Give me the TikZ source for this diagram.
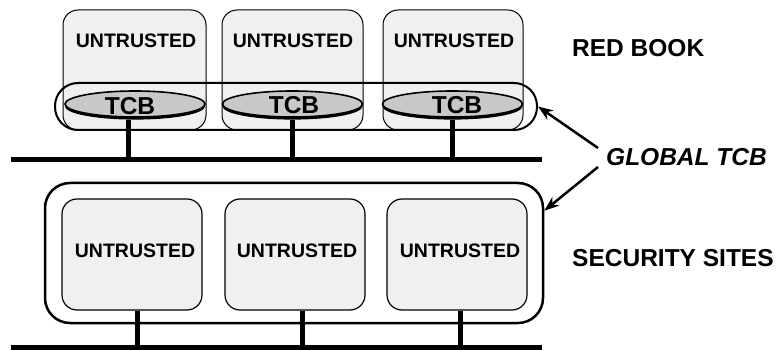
\documentclass[tikz,border=0pt]{standalone}
\usepackage{fontspec}
\setmainfont{Liberation Sans}
\usetikzlibrary{arrows.meta,shapes.geometric}
\definecolor{hostfill}{HTML}{F0F0F0}
\definecolor{tcbfill}{HTML}{C8C8C8}
\tikzset{
  host/.style={draw, line width=1pt, fill=hostfill, rounded corners=15pt, inner sep=0pt},
  tophost/.style={host, minimum height=120pt},
  sitehost/.style={host, line width=1.2pt, minimum width=140pt, minimum height=111pt},
  tcbshape/.style={ellipse, draw, line width=1.6pt, fill=tcbfill, minimum width=140pt, minimum height=26pt, inner sep=0pt},
  tcbshadow/.style={ellipse, draw, line width=1.2pt, fill=black, minimum width=139pt, minimum height=26pt, inner sep=0pt},
  hosttext/.style={font=\bfseries\fontsize{19.5}{21}\selectfont},
  tcbtext/.style={font=\bfseries\fontsize{24.5}{26}\selectfont},
  caption/.style={font=\bfseries\fontsize{24.5}{26}\selectfont, anchor=west, inner sep=0pt},
  bus/.style={line width=5pt},
  tap/.style={line width=5pt},
  pointer/.style={line width=2.5pt, -{Stealth[length=15pt,width=11pt]}},
}
\begin{document}
\begin{tikzpicture}[x=1pt,y=-1pt]
\useasboundingbox (0,0) rectangle (782,350);

% ---------- Red Book: hosts with local TCBs ----------
\node[tophost, minimum width=143pt] (h1) at (134.5,70) {};
\node[tophost, minimum width=141pt] (h2) at (292.5,70) {};
\node[tophost, minimum width=140pt] (h3) at (453,70) {};
\node[hosttext] (u1) at (136,41) {UNTRUSTED};
\node[hosttext] (u2) at (293,41) {UNTRUSTED};
\node[hosttext] (u3) at (454,41) {UNTRUSTED};

% global TCB boundary around the local TCBs
\node[draw, line width=2pt, rounded corners=23pt, minimum width=482pt, minimum height=47pt, inner sep=0pt] (pill) at (296,106.5) {};

% local TCBs (with a small drop shadow)
\node[tcbshadow] at (135,106) {};
\node[tcbshadow] at (292.5,106) {};
\node[tcbshadow] at (452.5,106) {};
\node[tcbshape] (t1) at (135,104) {};
\node[tcbshape] (t2) at (292.5,104) {};
\node[tcbshape] (t3) at (452.5,104) {};
\node[tcbtext] (l1) at (130,106) {TCB};
\node[tcbtext] (l2) at (294,105) {TCB};
\node[tcbtext] (l3) at (457,105) {TCB};

% network
\coordinate (busAl) at (11,160);
\coordinate (busAr) at (542,160);
\draw[bus] (busAl) -- (busAr);
\draw[tap] ([xshift=-7pt,yshift=-2pt]t1.south) -- ([xshift=-7pt]t1.south |- busAl);
\draw[tap] ([yshift=-2pt]t2.south) -- (t2.south |- busAl);
\draw[tap] ([yshift=-2pt]t3.south) -- (t3.south |- busAl);

% ---------- Security sites ----------
\node[draw, line width=2.5pt, rounded corners=25pt, minimum width=498pt, minimum height=140pt, inner sep=0pt] (outer) at (294,253) {};
\node[sitehost] (s1) at (132,254.5) {};
\node[sitehost] (s2) at (295,254.5) {};
\node[sitehost] (s3) at (457,254.5) {};
\node[hosttext] (v1) at (135,251) {UNTRUSTED};
\node[hosttext] (v2) at (297,251) {UNTRUSTED};
\node[hosttext] (v3) at (460,251) {UNTRUSTED};

\coordinate (busBl) at (11,347);
\coordinate (busBr) at (542,347);
\draw[bus] (busBl) -- (busBr);
\draw[tap] ([xshift=5pt]s1.south) -- ([xshift=5pt]s1.south |- busBl);
\draw[tap] ([xshift=7pt]s2.south) -- ([xshift=7pt]s2.south |- busBl);
\draw[tap] ([xshift=3pt]s3.south) -- ([xshift=3pt]s3.south |- busBl);

% ---------- captions ----------
\node[caption] (red) at (572,48) {RED BOOK};
\node[caption, font=\bfseries\itshape\fontsize{24.5}{26}\selectfont] (gtcb) at (606,157) {GLOBAL TCB};
\node[caption] (sites) at (572,258) {SECURITY SITES};

\draw[pointer] ([shift={(-8pt,9pt)}]gtcb.west) -- (pill.east);
\draw[pointer] ([shift={(-8pt,-10pt)}]gtcb.west) -- ([yshift=-29pt]outer.north east);
\end{tikzpicture}
\end{document}
